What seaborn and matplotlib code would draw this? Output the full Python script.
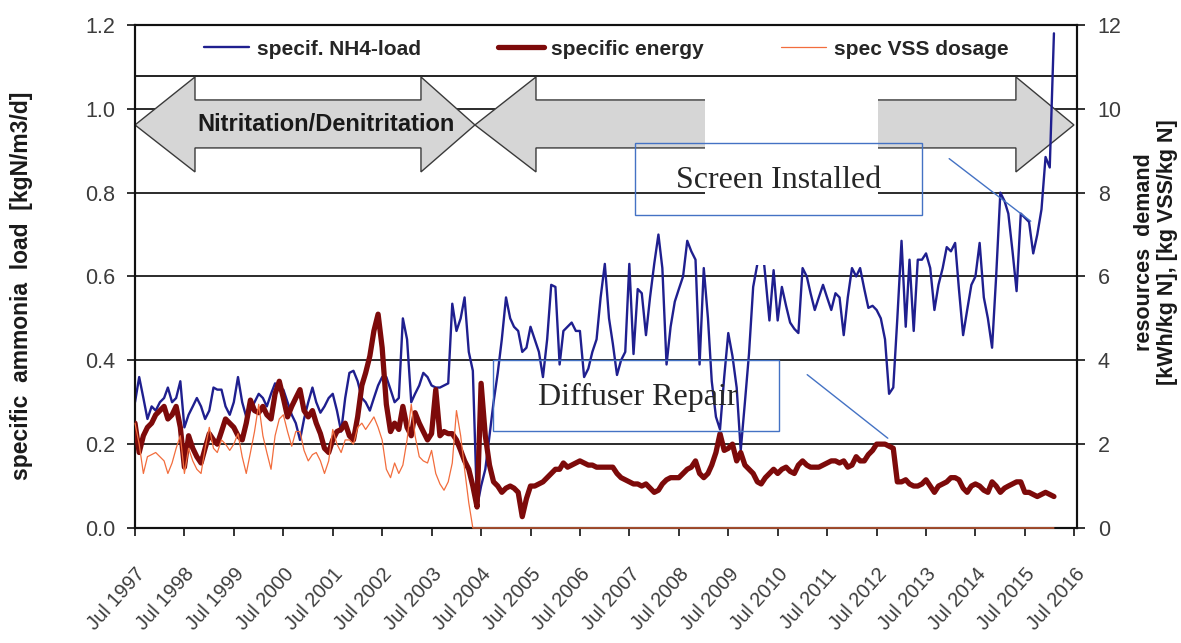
import numpy as np
import pandas as pd
import seaborn as sns
import matplotlib.pyplot as plt
import matplotlib.dates as mdates
import matplotlib.transforms as mtransforms
from matplotlib.patches import Polygon, Rectangle

sns.set_style("ticks")
plt.rcParams["font.family"] = ["Liberation Sans", "DejaVu Sans"]

# monthly values, Jul 1997 .. Feb 2016
months = pd.date_range("1997-07-01", periods=224, freq="MS")

# specific NH4 load [kgN/m3/d], left axis
nh4_load = [
    0.30, 0.36, 0.31, 0.26, 0.29, 0.28, 0.30, 0.31, 0.335, 0.30, 0.31, 0.35,
    0.24, 0.27, 0.29, 0.31, 0.29, 0.26, 0.28, 0.335, 0.33, 0.33, 0.29, 0.27,
    0.30, 0.36, 0.30, 0.265, 0.28, 0.30, 0.32, 0.31, 0.29, 0.32, 0.345, 0.33,
    0.33, 0.30, 0.27, 0.25, 0.21, 0.26, 0.30, 0.335, 0.30, 0.275, 0.29, 0.31,
    0.32, 0.28, 0.23, 0.31, 0.37, 0.375, 0.35, 0.31, 0.30, 0.28, 0.31, 0.34,
    0.36, 0.36, 0.33, 0.30, 0.31, 0.50, 0.45, 0.30, 0.32, 0.34, 0.37, 0.36,
    0.34, 0.335, 0.335, 0.34, 0.345, 0.535, 0.47, 0.50, 0.55, 0.42, 0.375, 0.05,
    0.10, 0.14, 0.22, 0.30, 0.37, 0.45, 0.55, 0.50, 0.48, 0.47, 0.42, 0.43,
    0.48, 0.45, 0.42, 0.36, 0.45, 0.58, 0.575, 0.39, 0.47, 0.48, 0.49, 0.47,
    0.47, 0.36, 0.38, 0.42, 0.45, 0.55, 0.63, 0.50, 0.44, 0.365, 0.40, 0.42,
    0.63, 0.415, 0.57, 0.56, 0.46, 0.55, 0.63, 0.70, 0.62, 0.39, 0.48, 0.54,
    0.57, 0.60, 0.685, 0.66, 0.64, 0.39, 0.62, 0.50, 0.35, 0.265, 0.235, 0.36,
    0.465, 0.41, 0.335, 0.185, 0.30, 0.415, 0.575, 0.63, 0.70, 0.60, 0.495, 0.615,
    0.495, 0.575, 0.53, 0.49, 0.475, 0.465, 0.62, 0.60, 0.56, 0.52, 0.55, 0.58,
    0.55, 0.52, 0.56, 0.55, 0.46, 0.55, 0.62, 0.60, 0.62, 0.57, 0.525, 0.53,
    0.52, 0.50, 0.45, 0.32, 0.335, 0.50, 0.685, 0.48, 0.64, 0.47, 0.64, 0.64,
    0.655, 0.62, 0.52, 0.58, 0.62, 0.67, 0.66, 0.68, 0.57, 0.46, 0.52, 0.58,
    0.60, 0.68, 0.55, 0.50, 0.43, 0.60, 0.80, 0.78, 0.75, 0.66, 0.565, 0.75,
    0.74, 0.73, 0.655, 0.70, 0.76, 0.885, 0.86, 1.18,
]

# specific energy [kWh/kg N], right axis
energy = [
    2.5, 1.8, 2.2, 2.4, 2.5, 2.7, 2.8, 2.9, 2.6, 2.7, 2.9, 2.4,
    1.45, 2.2, 1.9, 1.7, 1.55, 1.9, 2.25, 2.1, 2.0, 2.3, 2.6, 2.5,
    2.4, 2.2, 2.1, 2.5, 3.05, 2.8, 2.75, 2.9, 2.7, 2.6, 3.2, 3.5,
    3.1, 2.65, 2.9, 3.1, 3.3, 2.8, 2.65, 2.8, 2.5, 2.25, 1.9, 1.8,
    2.1, 2.3, 2.35, 2.5, 2.2, 2.1, 2.65, 3.4, 3.7, 4.1, 4.7, 5.1,
    4.3, 2.95, 2.3, 2.5, 2.35, 2.9, 2.4, 2.2, 2.75, 2.5, 2.3, 2.1,
    2.25, 3.3, 2.2, 2.3, 2.25, 2.25, 2.1, 1.85, 1.6, 1.4, 1.0, 0.5,
    3.45, 2.2, 1.5, 1.1, 1.0, 0.85, 0.95, 1.0, 0.95, 0.85, 0.27, 0.7,
    1.0, 1.0, 1.05, 1.1, 1.2, 1.3, 1.4, 1.4, 1.55, 1.45, 1.5, 1.55,
    1.6, 1.55, 1.5, 1.5, 1.45, 1.45, 1.45, 1.45, 1.45, 1.3, 1.2, 1.15,
    1.1, 1.05, 1.05, 1.0, 1.05, 0.95, 0.85, 0.9, 1.05, 1.15, 1.2, 1.2,
    1.2, 1.3, 1.4, 1.45, 1.6, 1.3, 1.2, 1.3, 1.5, 1.8, 2.25, 1.85,
    1.9, 2.0, 1.6, 1.8, 1.5, 1.4, 1.3, 1.1, 1.05, 1.2, 1.3, 1.4,
    1.3, 1.4, 1.45, 1.35, 1.3, 1.5, 1.6, 1.5, 1.45, 1.45, 1.45, 1.5,
    1.55, 1.6, 1.6, 1.55, 1.6, 1.45, 1.5, 1.7, 1.6, 1.6, 1.75, 1.85,
    2.0, 2.0, 2.0, 1.95, 1.9, 1.1, 1.1, 1.15, 1.05, 1.0, 1.0, 1.05,
    1.15, 1.0, 0.85, 1.0, 1.05, 1.1, 1.2, 1.2, 1.15, 0.95, 0.85, 1.0,
    1.05, 1.0, 0.9, 0.85, 1.1, 1.0, 0.85, 0.95, 1.0, 1.05, 1.1, 1.1,
    0.85, 0.85, 0.8, 0.75, 0.8, 0.85, 0.8, 0.75,
]

# spec VSS dosage [kg VSS/kg N], right axis; stays at zero after mid 2004
vss_dates = list(months[:83]) + [pd.Timestamp("2016-02-01")]
vss_dosage = [
    2.5, 2.0, 1.3, 1.7, 1.75, 1.8, 1.7, 1.6, 1.3, 1.55, 1.9, 2.2,
    1.3, 1.9, 1.6, 1.4, 1.3, 1.9, 2.4, 1.9, 1.8, 2.1, 2.0, 1.85,
    2.0, 2.25, 1.7, 1.3, 1.8, 2.3, 2.95, 2.2, 1.8, 1.4, 2.2, 2.6,
    2.7, 2.3, 1.95, 2.3, 2.3, 1.85, 1.6, 1.75, 1.8, 1.6, 1.3, 1.6,
    2.35, 2.0, 1.8, 2.1, 2.1, 2.0, 2.4, 2.5, 2.35, 2.5, 2.65, 2.4,
    2.1, 1.4, 1.2, 1.55, 1.3, 1.5, 2.1, 2.95, 2.2, 1.7, 1.6, 1.55,
    1.85, 1.3, 1.05, 0.9, 1.1, 1.55, 2.8, 2.2, 1.4, 0.6, 0.0,
    0.0,
]

df = pd.DataFrame({"date": months, "nh4": nh4_load, "energy": energy})
df_vss = pd.DataFrame({"date": vss_dates, "vss": vss_dosage})

fig = plt.figure(figsize=(11.81, 6.43), dpi=100)
ax = fig.add_axes([0.1143, 0.1789, 0.7976, 0.7823])
ax2 = ax.twinx()

sns.lineplot(data=df, x="date", y="nh4", ax=ax, color="#1f1f8f", lw=1.7,
             zorder=3, label="specif. NH4-load", legend=False)
sns.lineplot(data=df, x="date", y="energy", ax=ax2, color="#7d0a0a", lw=3.8,
             zorder=3, label="specific energy", legend=False)
sns.lineplot(data=df_vss, x="date", y="vss", ax=ax2, color="#f26d3d", lw=0.9,
             zorder=4, label="spec VSS dosage", legend=False)
# the flat zero stretch sits on the bottom spine, keep it visible
ax2.get_lines()[1].set_clip_on(False)
ax2.get_lines()[1].set_zorder(6)

ax.set_xlim(pd.Timestamp("1997-07-01"), pd.Timestamp("2016-07-20"))
ax.set_ylim(0, 1.2)
ax2.set_ylim(0, 12)
ax.set_yticks(np.arange(0, 1.21, 0.2))
ax.yaxis.set_major_formatter(plt.FormatStrFormatter("%.1f"))
ax2.set_yticks(range(0, 13, 2))
ax.set_xlabel("")
ax.set_ylabel("")
ax2.set_ylabel("")

ax.xaxis.set_major_locator(mdates.MonthLocator(bymonth=7))
ax.xaxis.set_major_formatter(mdates.DateFormatter("%b %Y"))

ax.set_axisbelow(True)
ax.yaxis.grid(True, color="#1a1a1a", lw=1.3)
ax.xaxis.grid(False)

for a in (ax, ax2):
    for sp in a.spines.values():
        sp.set_visible(True)
        sp.set_color("#111111")
        sp.set_linewidth(1.5)

tick_grey = "#3c3c3c"
ax.tick_params(axis="y", direction="out", length=6, width=1.2, colors="#111111",
               labelcolor=tick_grey, labelsize=15.5, pad=8)
ax2.tick_params(axis="y", direction="out", length=6, width=1.2, colors="#111111",
                labelcolor=tick_grey, labelsize=15.5, pad=9)
ax.tick_params(axis="x", direction="out", length=6, width=1.2, colors="#111111",
               labelcolor=tick_grey, labelsize=14.5, pad=25)
shift = mtransforms.ScaledTranslation(0.07, 0, fig.dpi_scale_trans)
for lab in ax.get_xticklabels():
    lab.set_rotation(48)
    lab.set_ha("right")
    lab.set_va("center")
    lab.set_rotation_mode("anchor")
    lab.set_transform(lab.get_transform() + shift)

# legend band at the top
ax.axhline(1.0786, color="#111111", lw=1.3, zorder=1)
handles = ax.get_lines()[:1] + ax2.get_lines()[:2]
ax2.legend(handles, [h.get_label() for h in handles], loc="center",
           bbox_to_anchor=(0.5, 0.952), ncol=3, frameon=False,
           handlelength=2.2, handletextpad=0.35, columnspacing=3.7,
           prop={"weight": "bold", "size": 15})

# process period arrows
def arrow_shape(x0, x1, head):
    ytip, yht, yhb, yst, ysb = 0.8012, 0.8966, 0.7078, 0.8509, 0.7555
    return [(x0, ytip), (x0 + head[0], yht), (x0 + head[0], yst),
            (x1 - head[1], yst), (x1 - head[1], yht), (x1, ytip),
            (x1 - head[1], yhb), (x1 - head[1], ysb), (x0 + head[0], ysb),
            (x0 + head[0], yhb)]

for x0, x1, head in [(0.0, 0.3609, (0.0637, 0.0573)),
                     (0.3609, 0.9968, (0.0648, 0.0616))]:
    ax.add_patch(Polygon(arrow_shape(x0, x1, head), closed=True,
                         transform=ax.transAxes, facecolor="#d6d6d6",
                         edgecolor="#3a3a3a", lw=1.0, zorder=1.5))
ax.text(0.2028, 0.8012, "Nitritation/Denitritation", transform=ax.transAxes,
        ha="center", va="center", fontsize=17, fontweight="bold",
        color="#1a1a1a", zorder=1.6)

# white patch over the second arrow label
ax2.add_patch(Rectangle((0.6051, 0.5229), 0.1836, 0.3419, transform=ax2.transAxes,
                        facecolor="white", edgecolor="none", zorder=5))

box_blue = "#4472c4"
serif = ["Liberation Serif", "DejaVu Serif"]
ax2.add_patch(Rectangle((0.5308, 0.6223), 0.3047, 0.1431, transform=ax2.transAxes,
                        fill=False, edgecolor=box_blue, lw=1.0, zorder=6))
ax2.text(0.6837, 0.6899, "Screen Installed", transform=ax2.transAxes,
         ha="center", va="center", fontsize=23, family=serif, zorder=7)
ax2.annotate("", xy=(0.9533, 0.6064), xytext=(0.862, 0.7376),
             xycoords="axes fraction", textcoords="axes fraction",
             arrowprops=dict(arrowstyle="-", color=box_blue, lw=1.0), zorder=7)

ax2.add_patch(Rectangle((0.380, 0.1928), 0.3037, 0.1412, transform=ax2.transAxes,
                        fill=False, edgecolor=box_blue, lw=1.0, zorder=6))
ax2.text(0.5334, 0.2584, "Diffuser Repair", transform=ax2.transAxes,
         ha="center", va="center", fontsize=23, family=serif, zorder=7)
ax2.annotate("", xy=(0.8015, 0.175), xytext=(0.7113, 0.3082),
             xycoords="axes fraction", textcoords="axes fraction",
             arrowprops=dict(arrowstyle="-", color=box_blue, lw=1.0), zorder=7)

fig.text(0.0186, 0.555, "specific  ammonia  load  [kgN/m3/d]", rotation=90,
         ha="center", va="center", fontsize=16.5, fontweight="bold", color="#1a1a1a")
fig.text(0.9790, 0.608, "resources  demand\n[kWh/kg N], [kg VSS/kg N]", rotation=90,
         ha="center", va="center", fontsize=15.5, fontweight="bold", color="#1a1a1a",
         multialignment="center", linespacing=1.1)

fig.savefig("out.png", dpi=100)
